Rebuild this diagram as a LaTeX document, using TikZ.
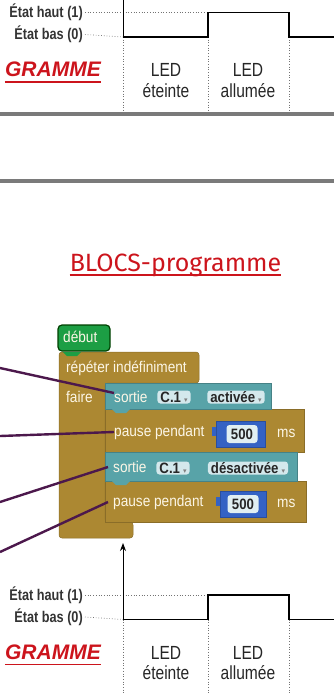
\documentclass[tikz,border=0pt]{standalone}
\usepackage{fontspec}
\setmainfont{Liberation Sans}
\newfontfamily\narrowfont[FakeStretch=0.82]{Liberation Sans}
\newfontfamily\blockfont[FakeStretch=0.88]{Liberation Sans}
\newfontfamily\titlefont{Fira Sans}
\newfontfamily\symbfont{DejaVu Sans}
\usetikzlibrary{arrows.meta}

\definecolor{brun}{RGB}{172,136,50}
\definecolor{sarcelle}{RGB}{88,163,168}
\definecolor{vertdebut}{RGB}{28,158,68}
\definecolor{bleuinput}{RGB}{52,98,196}
\definecolor{champclair}{RGB}{212,232,236}
\definecolor{violet}{RGB}{76,24,76}
\definecolor{rouge}{RGB}{204,20,28}
\definecolor{creme}{RGB}{252,246,230}

\newcommand{\menu}{\hspace{3pt}{\symbfont\fontsize{7}{7}\selectfont\color{gray}▾}}

\begin{document}
\begin{tikzpicture}[x=1pt,y=-1pt,
  etat/.style={font=\narrowfont\bfseries\fontsize{15.5}{17}\selectfont,
    text=black!80, anchor=east, inner sep=0pt},
  led/.style={font=\narrowfont\fontsize{19}{21}\selectfont,
    text=black!85, anchor=base, inner sep=0pt},
  gramme/.style={font=\bfseries\itshape\fontsize{21}{23}\selectfont,
    text=rouge, anchor=base east, inner sep=0pt},
  grille/.style={dotted, black!55, line width=0.7pt},
  signal/.style={line width=1.6pt, black},
  separation/.style={line width=3.5pt, black!52},
  bloctexte/.style={font=\blockfont\fontsize{15.5}{17}\selectfont,
    text=creme, anchor=west, inner sep=0pt},
  champ/.style={font=\blockfont\bfseries\fontsize{15}{16}\selectfont,
    text=black!85, fill=champclair, rounded corners=3pt,
    inner xsep=3pt, inner ysep=0pt, minimum height=13pt},
  valeur/.style={font=\blockfont\bfseries\fontsize{15}{16}\selectfont,
    text=black!85, fill=champclair!70!white, rounded corners=3pt,
    minimum width=31pt, minimum height=18pt, inner sep=0pt},
  fil/.style={violet, line width=2.4pt},
  chrono/.pic={
    \node[etat] (-haut) at (83,-24.5) {État haut (1)};
    \node[etat] (-bas) at (83,-2.5) {État bas (0)};
    \draw[grille] ([xshift=2pt]-haut.east) -- (208,-24.5);
    \draw[grille] ([xshift=2pt]-bas.east) -- (123,0);
    \foreach \X in {123,208,289}
      \draw[grille] (\X,0) -- ++(0,75);
    \draw[signal] (123,0) -- (208,0) -- (208,-24.5) -- (289,-24.5)
      -- (289,0) -- (334,0);
    \node[led] (-led1) at (166,40) {LED};
    \node[led] (-eteinte) at (166,60) {éteinte};
    \node[led] (-led2) at (248,40) {LED};
    \node[led] (-allumee) at (248,60) {allumée};
    \node[gramme] (-titre) at (101,40) {GRAMME};
    \draw[rouge, line width=1.5pt] ([yshift=-5pt]-titre.base west)
      -- ([yshift=-5pt]-titre.base east);}
]
\useasboundingbox (0,0) rectangle (334,693);

% chronogrammes
\path (0,37) pic (h) {chrono}
  (0,619.5) pic (b) {chrono};
\coordinate (axeh0) at (123,0);
\coordinate (axeh1) at (123,37);
\draw[line width=1pt] (axeh0) -- (axeh1);
\coordinate (t0) at (123,619.5);
\coordinate (tfin) at (123,543);
\draw[-{Stealth[length=8pt,width=6pt]}, line width=1pt] (t0) -- (tfin);

\draw[separation] (0,114) -- (334,114);
\draw[separation] (0,181) -- (334,181);

\node[font=\titlefont\fontsize{25}{27}\selectfont, text=rouge,
  anchor=base, inner sep=0pt] (blocs) at (175.5,271) {BLOCS-programme};
\draw[rouge, line width=1.6pt] ([yshift=-4pt]blocs.base west)
  -- ([yshift=-4pt]blocs.base east);

% blocs
\filldraw[fill=brun, draw=brun!80!black, line width=0.5pt, rounded corners=3pt]
  (59,352) -- (199,352) -- (199,383) -- (105,383) -- (105,522)
  -- (133,522) -- (133,538) -- (59,538) -- cycle;
\filldraw[fill=brun, draw=brun!80!black, line width=0.5pt] (105,409) rectangle (304,452);
\filldraw[fill=brun, draw=brun!80!black, line width=0.5pt] (105,481) rectangle (306,522);
\filldraw[fill=sarcelle, draw=sarcelle!80!black, line width=0.5pt] (105,383) rectangle (271,409);
\filldraw[fill=sarcelle, draw=sarcelle!80!black, line width=0.5pt] (105,452) rectangle (297,481);
\fill[sarcelle] (112,409) -- (116,413) -- (126,413) -- (130,409) -- cycle;
\fill[sarcelle] (112,481) -- (116,485) -- (126,485) -- (130,481) -- cycle;
\filldraw[fill=vertdebut, draw=black!75!green, line width=1.2pt, rounded corners=4pt]
  (58,351) -- (58,325) -- (110,325) -- (110,351) -- cycle;
\fill[vertdebut] (63,352) -- (67,356) -- (77,356) -- (81,352) -- cycle;
\filldraw[fill=bleuinput, draw=bleuinput!80!black] (216,421) rectangle (265,447);
\fill[bleuinput] (212,427) rectangle (216,436);
\filldraw[fill=bleuinput, draw=bleuinput!80!black] (220,491) rectangle (266,517);
\fill[bleuinput] (216,497) rectangle (220,506);

\node[bloctexte] (debut) at (63,337) {début};
\node[bloctexte] (repeter) at (66,368) {répéter indéfiniment};
\node[bloctexte] (faire) at (66,397) {faire};
\node[bloctexte] (sortie1) at (114,397) {sortie};
\node[champ] (voie1) at (174,397) {C.1\menu};
\node[champ] (activee) at (236,397) {activée\menu};
\node[bloctexte] (pause1) at (114,432) {pause pendant};
\node[valeur] (duree1) at (242,434) {500};
\node[bloctexte] (ms1) at (277,433) {ms};
\node[bloctexte] (sortie2) at (113,467) {sortie};
\node[champ] (voie2) at (173,468) {C.1\menu};
\node[champ] (desactivee) at (248,468) {désactivée\menu};
\node[bloctexte] (pause2) at (113,502) {pause pendant};
\node[valeur] (duree2) at (243,504) {500};
\node[bloctexte] (ms2) at (277,503) {ms};

% fils
\coordinate (src1) at (0,368);
\coordinate (src2) at (0,436);
\coordinate (src3) at (0,502);
\coordinate (src4) at (0,552);
\draw[fil] (src1) -- ([yshift=4pt]sortie1.west);
\draw[fil] (src2) -- (pause1.west);
\draw[fil] (src3) -- ([xshift=-5pt]sortie2.west);
\draw[fil] (src4) -- ([xshift=-5pt]pause2.west);

\end{tikzpicture}
\end{document}
